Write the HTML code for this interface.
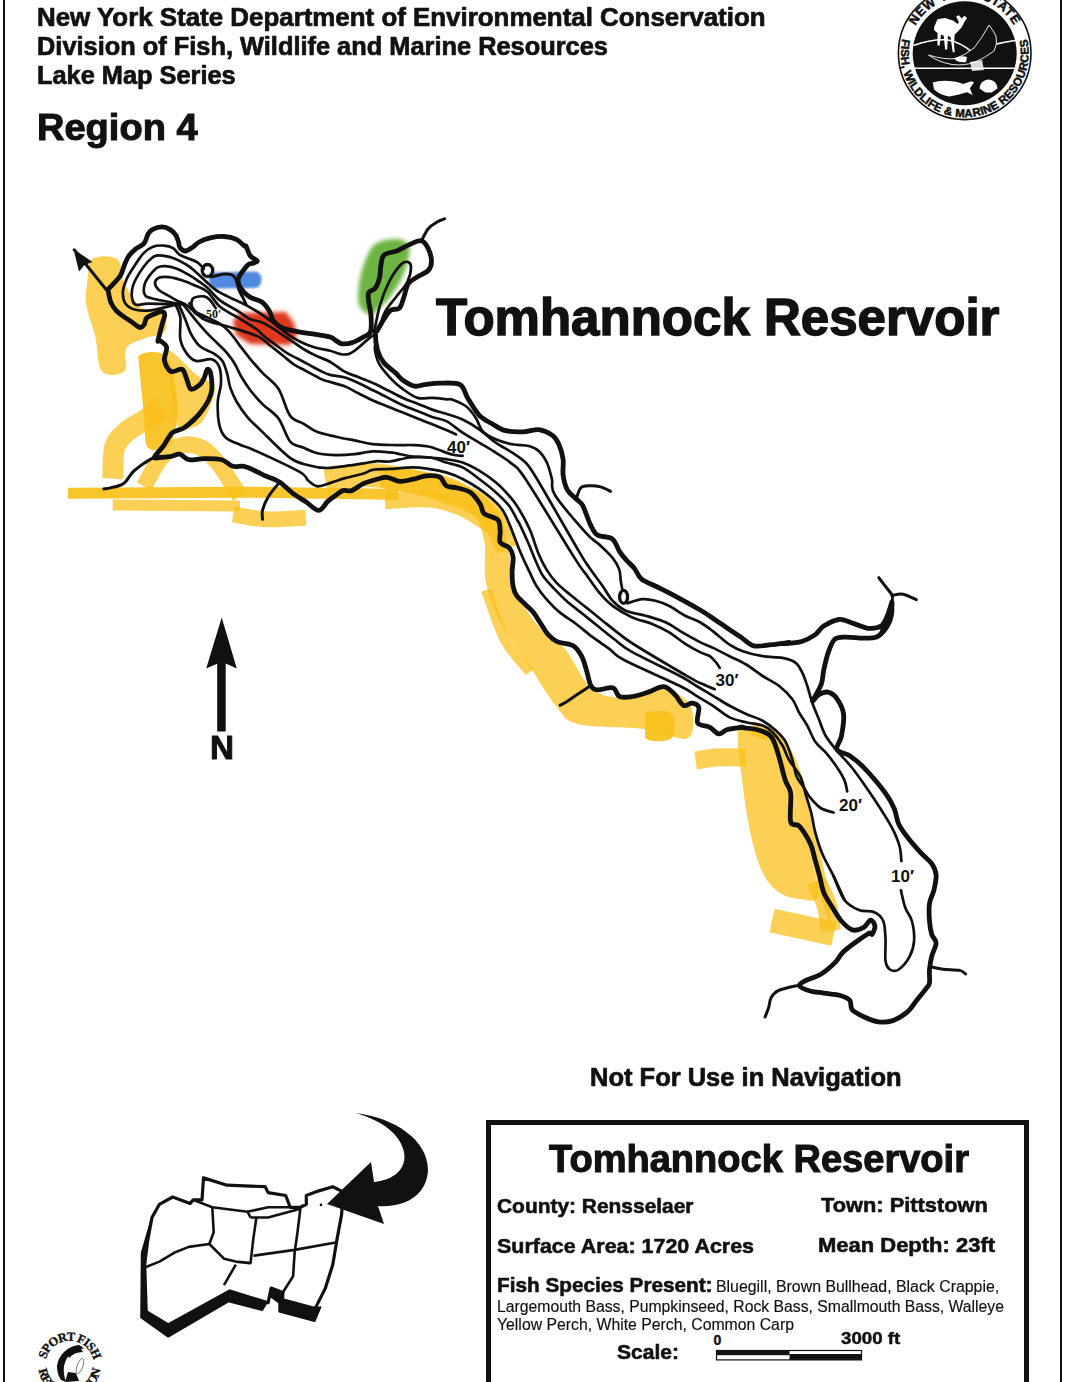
<!DOCTYPE html>
<html><head><meta charset="utf-8">
<style>
html,body{margin:0;padding:0;background:#fff;}
body{width:1089px;height:1382px;position:relative;overflow:hidden;font-family:"Liberation Sans",sans-serif;color:#111;}
.t{position:absolute;white-space:nowrap;font-weight:bold;line-height:1;transform-origin:0 0;-webkit-text-stroke:0.028em #111;}
.r{font-weight:normal;-webkit-text-stroke:0.01em #111;}
svg{position:absolute;left:0;top:0;}
</style></head><body>
<div style="position:absolute;left:3px;top:0;width:2px;height:1382px;background:#111"></div>
<div style="position:absolute;left:1060px;top:0;width:2px;height:1382px;background:#111"></div>

<div class="t" id="h1" style="left:36.90px;top:4.54px;font-size:25.7px;transform:scaleX(1.008);">New York State Department of Environmental Conservation</div>
<div class="t" id="h2" style="left:36.50px;top:33.84px;font-size:25.7px;transform:scaleX(0.988);">Division of Fish, Wildlife and Marine Resources</div>
<div class="t" id="h3" style="left:36.50px;top:62.74px;font-size:25.7px;transform:scaleX(0.987);">Lake Map Series</div>
<div class="t" id="h4" style="left:36.6px;top:108.84px;font-size:37.4px;transform:scaleX(1.017);">Region 4</div>

<div class="t" id="title" style="left:436.0px;top:291.66px;font-size:51.2px;transform:scaleX(0.997);">Tomhannock Reservoir</div>

<div class="t" id="nfu" style="left:590.3px;top:1064.65px;font-size:25.1px;transform:scaleX(1.016);">Not For Use in Navigation</div>

<div style="position:absolute;left:486px;top:1120px;width:533px;height:300px;border:5px solid #111;"></div>
<div class="t" id="bt" style="left:549.2px;top:1140.4px;font-size:38px;transform:scaleX(1.001);">Tomhannock Reservoir</div>
<div class="t" id="c1" style="left:496.9px;top:1195.56px;font-size:20.6px;transform:scaleX(1.016);">County: Rensselaer</div>
<div class="t" id="c2" style="left:820.6px;top:1195.26px;font-size:20.6px;transform:scaleX(1.059);">Town: Pittstown</div>
<div class="t" id="c3" style="left:496.6px;top:1235.56px;font-size:20.6px;transform:scaleX(1.041);">Surface Area: 1720 Acres</div>
<div class="t" id="c4" style="left:818.1px;top:1234.66px;font-size:20.6px;transform:scaleX(1.067);">Mean Depth: 23ft</div>
<div class="t" id="c5" style="left:497.0px;top:1274.76px;font-size:20.6px;transform:scaleX(1.007);">Fish Species Present:</div>
<div class="t r" id="f1" style="left:716.4px;top:1278.66px;font-size:16px;transform:scaleX(0.992);">Bluegill, Brown Bullhead, Black Crappie,</div>
<div class="t r" id="f2" style="left:496.6px;top:1298.76px;font-size:16px;transform:scaleX(0.984);">Largemouth Bass, Pumpkinseed, Rock Bass, Smallmouth Bass, Walleye</div>
<div class="t r" id="f3" style="left:497.0px;top:1317.16px;font-size:16px;transform:scaleX(0.987);">Yellow Perch, White Perch, Common Carp</div>
<div class="t" id="sc" style="left:617.2px;top:1341.66px;font-size:20.6px;transform:scaleX(1.02);">Scale:</div>
<div class="t" id="s0" style="left:713.6px;top:1333.45px;font-size:14px;transform:scaleX(1.0);">0</div>
<div class="t" id="s3" style="left:841.0px;top:1331.4px;font-size:16.8px;transform:scaleX(1.113);">3000 ft</div>

<svg width="1089" height="1382" viewBox="0 0 1089 1382">

<!--EXTRA-->
<defs>
 <filter id="blur2" x="-20%" y="-20%" width="140%" height="140%"><feGaussianBlur stdDeviation="2"/></filter>
 <filter id="blur1" x="-20%" y="-20%" width="140%" height="140%"><feGaussianBlur stdDeviation="1.2"/></filter>
 <path id="logoTop" d="M914.7,53.3 A50,50 0 0 1 1014.7,53.3"/>
 <path id="logoBot" d="M905.7,53.3 A59,59 0 0 0 1023.7,53.3"/>
</defs>
<!-- colored patches -->
<path d="M210,272.5 L256,271.5 Q262,274 261.5,280 Q261,287 255,288 L214,288.5 Q209,286 209,279Z" fill="#5089E0" filter="url(#blur1)"/>
<path d="M233,321 L239,313 L286,312 L294,323 L297,336 L290,345 L250,344 L236,335Z" fill="#E0371C" filter="url(#blur2)"/>
<path d="M372,247 Q380,238 400,239 L410,244 Q410,262 400,282 L388,300 L372,315 Q360,313 358,300 Q358,270 372,247Z" fill="#6DB443" filter="url(#blur2)"/>
<!--/EXTRA-->
<!--MAP-->
<g fill="none" stroke="#F9C01A" stroke-linecap="butt" stroke-linejoin="round">
<path d="M89.3,261.7 C94.5,255.0 110.8,255.2 116.7,258.8 C122.6,262.4 120.3,274.9 124.5,283.2 C128.7,291.5 135.6,303.7 142.1,308.6 C148.6,313.5 159.8,308.6 163.6,312.5 C167.3,316.4 167.5,327.9 164.6,332.1 C161.7,336.3 152.4,335.3 146.0,337.9 C139.6,340.5 130.0,342.1 126.4,347.7 C122.8,353.2 128.6,367.3 124.5,371.2 C120.4,375.1 106.9,377.1 102.0,371.2 C97.1,365.3 98.0,348.1 95.2,336.0 C92.4,323.9 86.4,311.3 85.4,298.9Z" fill="#F9C01A" fill-opacity="0.74" stroke="none"/>
<path d="M138.2,356.5 C142.3,351.3 159.3,350.4 165.5,355.5 C171.7,360.6 173.3,376.7 175.3,386.8 C177.3,396.9 178.3,406.3 177.3,416.1 C176.3,425.9 174.3,440.2 169.4,445.4 C164.5,450.6 152.1,452.3 147.9,447.4 C143.7,442.5 145.1,426.2 144.0,416.1 C142.9,406.0 142.1,396.7 141.1,386.8Z" fill="#F9C01A" fill-opacity="0.92" stroke="none"/>
<path d="M165.5,351.6 C169.1,343.8 188.7,369.2 196.8,375.1 C205.0,381.0 212.5,380.9 214.4,386.8 C216.3,392.7 211.4,403.8 208.5,410.3 C205.6,416.8 202.3,423.9 196.8,425.9 C191.3,427.8 180.5,434.4 175.3,422.0Z" fill="#F9C01A" fill-opacity="0.74" stroke="none"/>
<path d="M112.8,478.7 C113.1,473.5 112.4,455.2 114.7,447.4 C117.0,439.6 120.9,436.7 126.4,431.8 C131.9,426.9 142.0,422.3 147.9,418.1 C153.8,413.9 159.3,408.3 161.6,406.4" stroke-width="21" stroke-opacity="0.74"/>
<path d="M144.0,486.5 C146.9,481.6 155.4,464.1 161.6,457.2 C167.8,450.3 174.7,447.0 181.2,445.4 C187.7,443.8 194.8,444.8 200.7,447.4 C206.6,450.0 211.5,455.6 216.4,461.1 C221.3,466.6 226.1,474.7 230.0,480.6 C233.9,486.5 238.3,493.7 240.0,496.3" stroke-width="16.5" stroke-opacity="0.74"/>
<path d="M67.8,493.3 C96.5,493.1 201.4,492.4 240.0,492.3 C278.6,492.2 272.8,492.5 299.2,492.9 C325.6,493.3 381.8,494.2 398.3,494.5" stroke-width="11" stroke-opacity="0.92"/>
<path d="M112.8,505.0 L240.0,506.0" stroke-width="11" stroke-opacity="0.74"/>
<path d="M233.1,514.4 C238.6,515.2 254.0,518.8 266.1,519.3 C278.2,519.8 299.2,518.0 305.8,517.7" stroke-width="16" stroke-opacity="0.74"/>
<path d="M325.6,481.3 C332.2,480.2 351.0,474.7 365.3,474.7 C379.6,474.7 397.3,478.3 411.6,481.3 C425.9,484.3 439.6,488.8 451.2,492.9 C462.8,497.0 473.3,500.6 481.0,506.1 C488.7,511.6 493.1,518.8 497.5,526.0 C501.9,533.2 505.8,545.2 507.4,549.1" stroke-width="24" stroke-opacity="0.74"/>
<path d="M385.1,501.2 C392.8,500.9 418.2,498.1 431.4,499.5 C444.6,500.9 454.6,505.0 464.5,509.4 C474.4,513.8 486.5,523.2 490.9,526.0" stroke-width="16" stroke-opacity="0.74"/>
<path d="M380.0,486.4 C387.3,490.8 409.3,491.6 424.0,495.3 C438.7,499.0 458.0,501.2 468.0,508.5 C478.0,515.8 481.0,526.6 484.0,539.0 C487.0,551.4 482.8,568.3 486.0,583.0 C489.2,597.7 495.7,613.0 503.0,627.0 C510.3,641.0 521.2,653.8 530.0,667.0 C538.8,680.2 548.0,696.5 556.0,706.0 C564.0,715.5 563.3,720.2 578.0,724.0 C592.7,727.8 625.7,726.7 644.0,729.0 C662.3,731.3 680.3,742.0 688.0,738.0 C695.7,734.0 694.3,713.2 690.0,705.0 C685.7,696.8 672.5,690.2 662.0,689.0 C651.5,687.8 638.7,698.0 627.0,698.0 C615.3,698.0 602.3,697.2 592.0,689.0 C581.7,680.8 573.8,659.3 565.0,649.0 C556.2,638.7 547.0,636.5 539.0,627.0 C531.0,617.5 522.2,605.2 517.0,592.0 C511.8,578.8 511.0,561.2 508.0,548.0 C505.0,534.8 505.7,523.3 499.0,513.0 C492.3,502.7 479.0,492.7 468.0,486.0 C457.0,479.3 447.7,475.8 433.0,473.0 C418.3,470.2 388.8,466.8 380.0,469.0Z" fill="#F9C01A" fill-opacity="0.74" stroke="none"/>
<path d="M486.0,590.0 C489.2,598.3 497.7,626.3 505.0,640.0 C512.3,653.7 525.8,666.7 530.0,672.0" stroke-width="10" stroke-opacity="0.74"/>
<path d="M645.1,713.9 C649.5,709.8 667.2,709.8 671.6,713.9 C676.0,718.0 676.0,734.2 671.6,738.2 C667.2,742.2 649.5,742.2 645.1,738.2Z" fill="#F9C01A" fill-opacity="0.92" stroke="none"/>
<path d="M751.6,728.2 L769.2,734.0" stroke-width="14" stroke-opacity="0.74"/>
<path d="M695.7,760.5 C699.1,760.0 708.0,758.0 716.3,757.5 C724.6,757.0 740.8,757.5 745.7,757.5" stroke-width="18" stroke-opacity="0.74"/>
<path d="M739.0,728.0 C735.3,737.8 740.8,768.3 743.0,787.0 C745.2,805.7 748.5,825.3 752.0,840.0 C755.5,854.7 759.3,866.2 764.0,875.0 C768.7,883.8 774.0,889.0 780.0,893.0 C786.0,897.0 793.7,898.3 800.0,899.0 C806.3,899.7 816.0,903.5 818.0,897.0 C820.0,890.5 815.0,872.8 812.0,860.0 C809.0,847.2 803.7,833.3 800.0,820.0 C796.3,806.7 794.0,792.5 790.0,780.0 C786.0,767.5 780.2,753.7 776.0,745.0 C771.8,736.3 771.2,730.8 765.0,728.0Z" fill="#F9C01A" fill-opacity="0.74" stroke="none"/>
<path d="M765.0,730.0 C768.0,738.8 784.2,765.0 790.0,780.0 C795.8,795.0 796.3,806.7 800.0,820.0 C803.7,833.3 808.3,846.7 812.0,860.0 C815.7,873.3 818.8,889.2 822.0,900.0 C825.2,910.8 830.3,928.3 831.0,925.0 C831.7,921.7 828.7,895.8 826.0,880.0 C823.3,864.2 818.8,846.7 815.0,830.0 C811.2,813.3 807.2,793.7 803.0,780.0 C798.8,766.3 795.2,756.8 790.0,748.0 C784.8,739.2 776.2,730.0 772.0,727.0Z" fill="#F9C01A" fill-opacity="0.74" stroke="none"/>
<path d="M772.1,920.6 L833.9,933.9" stroke-width="24" stroke-opacity="0.74"/>
<path d="M816.2,881.0 C817.9,884.9 824.0,896.2 826.5,904.5 C829.0,912.8 830.2,926.5 830.9,930.9" stroke-width="20" stroke-opacity="0.74"/>
</g>
<g fill="none" stroke="#111" stroke-linecap="round" stroke-linejoin="round">
<path d="M175.6,304.7 C171.7,305.6 159.1,309.2 152.4,310.1 C145.8,311.0 140.2,310.9 135.7,309.8 C131.2,308.7 127.5,306.4 125.4,303.4 C123.3,300.4 122.7,296.0 122.9,291.9 C123.1,287.8 124.8,283.3 126.7,279.0 C128.6,274.7 131.6,270.4 134.4,266.1 C137.2,261.8 140.4,256.5 143.4,253.3 C146.4,250.1 149.0,248.2 152.4,246.9 C155.8,245.6 160.6,245.4 164.0,245.6 C167.4,245.8 170.4,246.6 173.0,248.1 C175.6,249.6 176.8,252.9 179.4,254.6 C182.0,256.3 185.4,257.1 188.4,258.4 C191.4,259.7 194.8,260.6 197.4,262.3 C200.0,264.0 202.7,267.6 203.8,268.7" stroke-width="2.7"/>
<path d="M178.7,304.7 C173.7,304.5 155.8,303.7 148.6,303.7 C141.4,303.7 138.5,305.8 135.7,304.7 C132.9,303.6 132.3,300.2 131.9,297.0 C131.5,293.8 131.8,289.5 133.1,285.4 C134.4,281.3 137.2,276.5 139.6,272.6 C142.0,268.8 144.7,265.1 147.3,262.3 C149.9,259.5 152.2,257.0 155.0,255.9 C157.8,254.8 160.8,255.5 164.0,255.9 C167.2,256.3 170.9,257.1 174.3,258.4 C177.7,259.7 181.4,261.7 184.6,263.6 C187.8,265.5 188.8,265.9 193.6,270.0 C198.3,274.1 208.5,284.0 213.1,287.9 C217.7,291.8 218.0,291.4 221.1,293.1 C224.2,294.8 227.8,296.5 231.4,298.2 C235.0,299.9 239.3,301.8 242.4,303.3 C245.5,304.8 246.9,305.5 250.0,307.3 C253.1,309.1 257.3,311.6 261.0,314.0 C264.7,316.4 268.7,319.5 272.0,322.0 C275.3,324.5 277.7,326.6 280.9,329.0 C284.1,331.4 287.1,334.2 291.1,336.7 C295.1,339.2 300.9,342.2 305.1,344.1 C309.3,346.0 312.0,346.7 316.1,347.8 C320.2,348.9 325.3,349.6 330.0,350.7 C334.7,351.8 340.0,354.5 344.1,354.5 C348.2,354.5 349.3,354.2 354.4,350.9 C359.5,347.6 371.5,334.9 374.9,334.7 C378.3,334.4 374.2,344.5 374.9,349.4 C375.6,354.3 376.6,359.2 379.3,364.1 C382.0,369.0 387.2,374.6 391.1,378.8 C395.0,383.0 398.5,385.9 402.9,389.1 C407.3,392.3 412.6,396.4 417.5,397.9 C422.4,399.4 427.3,397.7 432.2,397.9 C437.1,398.1 443.5,399.0 446.9,399.3 C450.3,399.6 449.5,398.5 452.7,399.7 C455.9,400.9 462.1,403.3 466.0,406.3 C469.9,409.3 473.1,413.8 475.9,417.9 C478.6,422.0 479.2,427.5 482.5,431.1 C485.8,434.7 490.8,437.1 495.7,439.3 C500.6,441.5 506.7,443.2 512.2,444.3 C517.7,445.4 524.4,444.9 528.8,446.0 C533.2,447.1 535.7,448.1 538.7,450.9 C541.7,453.6 544.7,457.8 546.9,462.5 C549.1,467.2 550.5,473.5 551.9,479.0 C553.3,484.5 549.5,486.5 555.2,495.5 C560.9,504.5 578.8,524.9 586.1,533.1 C593.5,541.3 594.9,540.5 599.3,544.6 C603.7,548.7 609.3,553.8 612.6,557.9 C615.9,562.0 617.8,565.5 619.2,569.4 C620.6,573.2 620.2,577.5 620.8,581.0 C621.3,584.5 622.2,588.9 622.5,590.5" stroke-width="2.7"/>
<path d="M627.4,603.3 C629.9,602.6 637.6,599.6 642.3,599.2 C647.0,598.8 651.1,599.7 655.5,600.8 C659.9,601.9 663.8,603.3 668.8,605.8 C673.8,608.3 680.1,613.0 685.3,615.7 C690.5,618.5 695.4,619.7 700.0,622.3 C704.6,624.9 708.2,627.7 713.1,631.4 C718.0,635.1 724.7,641.3 729.6,644.6 C734.5,647.9 737.3,649.3 742.8,651.2 C748.3,653.1 756.0,655.1 762.6,656.2 C769.2,657.3 777.0,656.8 782.5,657.9 C788.0,659.0 792.4,660.3 795.7,662.8 C799.0,665.3 800.4,668.8 802.3,672.7 C804.2,676.6 805.6,681.0 807.3,686.0 C808.9,691.0 810.3,697.0 812.2,702.5 C814.1,708.0 816.6,713.5 818.8,719.0 C821.0,724.5 822.5,730.2 825.5,735.5 C828.5,740.8 832.7,745.7 837.1,751.0 C841.5,756.3 846.9,761.4 851.8,767.5 C856.7,773.6 861.6,780.8 866.5,787.8 C871.4,794.8 876.9,803.1 881.2,809.8 C885.5,816.5 889.1,822.1 892.2,828.2 C895.3,834.3 898.1,841.0 899.6,846.5 C901.1,852.0 901.1,858.8 901.4,861.2" stroke-width="2.7"/>
<path d="M183.4,304.7 C178.2,303.7 158.9,300.2 152.4,298.5 C145.9,296.8 146.0,296.8 144.7,294.4 C143.4,292.0 143.8,287.3 144.7,284.1 C145.6,280.9 147.8,277.9 149.9,275.1 C152.1,272.3 155.0,268.9 157.6,267.4 C160.2,265.9 162.1,265.9 165.3,266.1 C168.5,266.3 173.3,267.4 176.9,268.7 C180.5,270.0 183.7,272.0 187.1,273.9 C190.5,275.8 194.0,277.9 197.4,280.3 C200.8,282.7 203.9,284.6 207.7,288.0 C211.5,291.4 214.9,296.5 220.0,300.4 C225.1,304.3 233.4,308.3 238.4,311.4 C243.4,314.5 246.2,317.3 250.0,319.1 C253.8,320.9 257.3,320.5 261.0,322.0 C264.7,323.5 268.3,325.7 272.0,327.9 C275.7,330.1 279.4,332.9 283.1,335.3 C286.8,337.8 290.4,340.2 294.1,342.6 C297.8,345.1 301.4,347.8 305.1,350.0 C308.8,352.2 312.0,353.9 316.1,355.8 C320.2,357.8 325.3,359.1 330.0,361.7 C334.7,364.3 339.3,368.8 344.1,371.4 C348.9,374.0 353.9,375.3 358.8,377.3 C363.7,379.3 368.6,381.0 373.5,383.2 C378.4,385.4 383.3,388.1 388.2,390.5 C393.1,392.9 398.0,395.7 402.9,397.9 C407.8,400.1 412.6,401.8 417.5,403.7 C422.4,405.6 427.3,407.9 432.2,409.6 C437.1,411.3 441.8,412.4 446.9,414.0 C452.0,415.6 457.2,416.9 462.6,419.5 C468.0,422.1 473.7,425.5 479.2,429.4 C484.7,433.2 490.2,438.7 495.7,442.6 C501.2,446.5 507.2,449.3 512.2,452.6 C517.2,455.9 521.4,458.1 525.5,462.5 C529.6,466.9 528.3,464.5 537.0,479.0 C545.7,493.5 569.2,534.8 577.9,549.6 C586.6,564.4 585.3,561.7 589.4,567.8 C593.5,573.9 598.7,580.5 602.6,586.0 C606.5,591.5 608.7,596.7 612.6,600.8 C616.5,604.9 620.3,608.2 625.8,610.7 C631.3,613.2 639.0,613.8 645.6,615.7 C652.2,617.6 659.4,619.5 665.5,622.3 C671.6,625.0 676.2,628.9 682.0,632.2 C687.8,635.5 694.8,639.5 700.0,642.1 C705.2,644.7 708.2,645.5 713.1,647.9 C718.0,650.2 724.1,653.4 729.6,656.2 C735.1,659.0 740.6,661.2 746.1,664.5 C751.6,667.8 757.1,672.4 762.6,676.0 C768.1,679.6 774.2,682.1 779.2,686.0 C784.2,689.9 789.1,694.8 792.4,699.2 C795.7,703.6 796.5,708.0 799.0,712.4 C801.5,716.8 804.5,720.6 807.3,725.6 C810.0,730.6 812.4,737.6 815.5,742.1 C818.6,746.6 822.5,748.7 826.1,752.9 C829.7,757.1 834.0,762.9 837.1,767.5 C840.2,772.1 842.8,776.4 844.5,780.4 C846.2,784.4 846.8,789.6 847.2,791.4" stroke-width="2.7"/>
<path d="M181.0,302.9 C179.4,302.0 175.4,299.8 171.7,297.6 C168.0,295.4 161.7,292.3 158.9,289.9 C156.1,287.4 155.0,284.9 155.0,282.9 C155.0,280.9 156.6,278.7 158.9,277.7 C161.2,276.7 165.2,276.7 169.1,277.1 C172.9,277.5 177.7,278.9 182.0,280.3 C186.3,281.7 190.5,283.5 194.8,285.4 C199.1,287.3 203.5,288.3 207.7,291.9 C211.9,295.5 214.9,302.5 220.0,306.8 C225.1,311.1 233.4,314.9 238.4,317.9 C243.4,320.9 246.8,323.0 250.0,325.0 C253.2,327.0 254.9,327.9 257.3,329.8 C259.8,331.8 261.6,334.2 264.7,336.7 C267.8,339.2 272.0,342.1 275.7,344.8 C279.4,347.5 283.0,350.6 286.7,352.9 C290.4,355.2 294.1,356.9 297.8,358.8 C301.5,360.8 305.1,362.7 308.8,364.6 C312.5,366.6 316.3,368.8 319.8,370.5 C323.3,372.2 325.9,373.8 330.0,374.9 C334.1,376.0 339.3,375.9 344.1,377.3 C348.9,378.7 353.9,381.0 358.8,383.2 C363.7,385.4 368.6,388.1 373.5,390.5 C378.4,392.9 383.3,395.4 388.2,397.9 C393.1,400.3 398.0,403.0 402.9,405.2 C407.8,407.4 412.6,409.1 417.5,411.1 C422.4,413.1 427.3,415.3 432.2,417.0 C437.1,418.7 441.8,418.8 446.9,421.4 C452.0,424.0 457.2,429.2 462.6,432.7 C468.0,436.2 473.7,439.3 479.2,442.6 C484.7,445.9 490.2,449.0 495.7,452.6 C501.2,456.2 507.2,459.7 512.2,464.1 C517.2,468.5 515.1,463.4 525.5,479.0 C535.9,494.6 564.4,542.0 574.5,557.9 C584.6,573.8 582.0,568.6 586.1,574.4 C590.2,580.2 594.9,587.4 599.3,592.6 C603.7,597.8 607.1,601.7 612.6,605.8 C618.1,609.9 625.8,614.4 632.4,617.4 C639.0,620.4 646.1,621.5 652.2,624.0 C658.3,626.5 663.3,628.9 668.8,632.2 C674.3,635.5 680.1,640.5 685.3,643.8 C690.5,647.1 695.9,650.0 700.0,652.1 C704.1,654.2 707.1,654.4 709.8,656.2 C712.5,658.0 714.8,660.9 716.4,662.8 C718.0,664.7 719.2,667.0 719.7,667.8" stroke-width="2.7"/>
<path d="M189.4,303.3 C191.6,305.8 196.4,314.7 202.5,318.5 C208.6,322.3 218.3,323.6 226.1,326.0 C233.8,328.4 243.2,331.0 249.0,333.0 C254.8,335.0 257.2,335.9 261.0,338.2 C264.8,340.5 268.3,344.1 272.0,347.0 C275.7,349.9 279.4,352.9 283.1,355.8 C286.8,358.7 290.4,362.2 294.1,364.6 C297.8,367.1 301.4,368.5 305.1,370.5 C308.8,372.5 313.0,374.8 316.1,376.4 C319.2,378.0 318.8,378.4 323.5,380.0 C328.2,381.6 338.2,383.9 344.1,386.1 C350.0,388.4 353.9,391.1 358.8,393.5 C363.7,395.9 368.6,398.6 373.5,400.8 C378.4,403.0 383.3,404.7 388.2,406.7 C393.1,408.7 398.0,410.7 402.9,412.6 C407.8,414.6 412.6,416.4 417.5,418.4 C422.4,420.3 427.3,422.3 432.2,424.3 C437.1,426.3 442.9,428.5 446.9,430.2 C450.9,431.9 454.5,433.7 456.0,434.4" stroke-width="2.7"/>
<path d="M215.8,308.2 C214.8,306.8 211.9,302.0 210.0,300.0 C208.1,298.0 206.8,296.8 204.1,296.4 C201.4,296.0 195.9,296.5 193.8,297.9 C191.7,299.3 191.3,302.5 191.5,305.0 C191.7,307.5 192.9,310.9 195.0,313.0 C197.1,315.1 202.6,316.8 204.1,317.5" stroke-width="2.7"/>
<path d="M180.0,301.9 C181.2,302.5 184.9,303.9 187.3,305.5 C189.8,307.1 189.4,308.4 194.7,311.4 C200.0,314.4 213.4,319.8 219.3,323.4 C225.2,327.0 226.8,329.1 230.2,332.8 C233.6,336.5 236.2,340.9 239.6,345.3 C243.0,349.7 246.6,354.6 250.5,359.3 C254.4,364.0 258.3,368.4 263.0,373.4 C267.7,378.3 274.1,382.0 278.6,389.0 C283.1,396.0 285.8,409.8 290.0,415.6 C294.2,421.4 299.2,421.1 303.8,423.9 C308.4,426.6 312.1,430.0 317.5,432.1 C322.9,434.2 329.8,435.3 335.9,436.7 C342.0,438.1 348.2,439.2 354.3,440.4 C360.4,441.6 365.6,443.3 372.6,444.1 C379.6,444.9 389.8,444.9 396.5,445.1 C403.2,445.3 407.6,444.8 413.1,445.1 C418.6,445.4 424.1,445.6 429.6,446.8 C435.1,448.1 442.0,451.2 446.1,452.6 C450.2,454.0 451.6,454.4 454.4,455.0 C457.1,455.6 461.2,455.8 462.6,455.9" stroke-width="2.7"/>
<path d="M183.4,304.7 C185.5,307.3 192.0,315.6 195.9,320.3 C199.8,325.0 203.2,328.9 206.8,332.8 C210.5,336.7 214.4,340.3 217.8,343.7 C221.2,347.1 224.2,349.7 227.1,353.1 C229.9,356.5 232.6,360.1 234.9,364.0 C237.2,367.9 238.6,372.1 241.2,376.5 C243.8,380.9 246.9,385.8 250.5,390.5 C254.1,395.2 258.3,399.9 263.0,404.6 C267.7,409.3 274.1,412.5 278.6,418.6 C283.1,424.7 285.8,436.4 290.0,441.3 C294.2,446.2 299.2,445.8 303.8,447.8 C308.4,449.8 312.1,452.1 317.5,453.3 C322.9,454.5 329.8,455.0 335.9,455.1 C342.0,455.2 348.2,454.8 354.3,454.2 C360.4,453.6 366.7,451.7 372.6,451.4 C378.6,451.1 386.0,452.0 390.0,452.3 C394.0,452.6 392.6,452.7 396.5,453.4 C400.4,454.1 407.6,456.0 413.1,456.7 C418.6,457.4 424.1,457.1 429.6,457.5 C435.1,457.9 440.6,458.4 446.1,459.2 C451.6,460.0 457.1,460.6 462.6,462.5 C468.1,464.4 473.7,467.4 479.2,470.7 C484.7,474.0 490.8,478.2 495.7,482.3 C500.6,486.4 505.0,491.1 508.9,495.5 C512.8,499.9 515.3,503.1 518.8,508.8 C522.3,514.5 526.7,522.4 529.9,529.8 C533.1,537.1 535.5,546.3 538.2,552.9 C541.0,559.5 543.4,564.4 546.4,569.4 C549.4,574.4 552.5,578.5 556.4,582.6 C560.3,586.7 564.6,590.1 569.6,594.2 C574.6,598.3 580.6,603.0 586.1,607.4 C591.6,611.8 597.1,616.3 602.6,620.7 C608.1,625.1 613.7,629.8 619.2,633.9 C624.7,638.0 623.9,638.2 635.7,645.5 C647.5,652.8 678.7,671.2 689.9,677.7 C701.1,684.2 699.0,682.4 703.1,684.3 C707.2,686.2 712.8,688.5 714.7,689.3" stroke-width="2.7"/>
<path d="M178.7,304.7 C179.8,307.0 182.9,313.8 185.0,318.7 C187.1,323.6 188.6,329.6 191.2,334.3 C193.8,339.0 196.9,343.7 200.6,346.8 C204.2,349.9 209.5,350.8 213.1,353.1 C216.7,355.5 220.1,357.5 222.4,360.9 C224.7,364.3 225.8,369.0 227.1,373.4 C228.4,377.8 228.6,382.7 230.2,387.4 C231.8,392.1 233.6,396.6 236.5,401.5 C239.4,406.4 243.2,412.2 247.4,417.1 C251.6,422.0 254.4,424.3 261.5,431.1 C268.6,437.9 282.2,452.2 290.0,457.9 C297.8,463.6 302.3,463.5 308.4,465.2 C314.5,466.9 320.6,467.9 326.7,468.0 C332.8,468.1 339.0,466.9 345.1,466.1 C351.2,465.3 358.1,464.2 363.5,463.4 C368.9,462.6 372.8,461.4 377.2,461.1 C381.6,460.8 384.6,462.1 390.0,461.5 C395.4,460.9 403.2,458.2 409.8,457.5 C416.4,456.8 423.6,456.7 429.6,457.5 C435.7,458.3 440.6,460.9 446.1,462.5 C451.6,464.1 457.1,464.6 462.6,467.4 C468.1,470.1 473.7,474.9 479.2,479.0 C484.7,483.1 490.8,487.8 495.7,492.2 C500.6,496.6 505.3,500.9 508.9,505.5 C512.5,510.1 515.4,516.8 517.2,520.0 C519.1,523.2 518.1,521.0 520.0,524.8 C521.9,528.6 525.5,536.7 528.3,543.0 C531.0,549.3 534.0,557.3 536.5,562.8 C539.0,568.3 540.3,571.9 543.1,576.0 C545.9,580.1 549.2,583.5 553.1,587.6 C557.0,591.7 561.3,596.4 566.3,600.8 C571.2,605.2 577.3,609.6 582.8,614.0 C588.3,618.4 593.8,622.9 599.3,627.3 C604.8,631.7 610.4,636.4 615.9,640.5 C621.4,644.6 621.7,646.2 632.4,652.1 C643.1,658.0 669.3,670.4 680.0,676.0 C690.7,681.6 691.0,682.7 696.5,686.0 C702.0,689.3 707.6,692.6 713.1,695.9 C718.6,699.2 724.1,702.8 729.6,705.8 C735.1,708.8 740.6,711.5 746.1,714.0 C751.6,716.5 757.6,717.9 762.6,720.7 C767.6,723.5 772.0,727.0 775.9,730.6 C779.8,734.2 783.0,737.2 785.8,742.1 C788.5,747.0 790.6,754.2 792.4,760.0 C794.2,765.8 794.8,772.1 796.7,776.7 C798.7,781.3 802.0,784.4 804.1,787.8 C806.2,791.2 806.9,793.5 809.6,796.9 C812.4,800.3 816.6,805.4 820.6,808.0 C824.6,810.6 831.4,811.8 833.5,812.5" stroke-width="2.7"/>
<path d="M175.6,304.7 C176.4,306.8 179.5,311.5 180.3,317.2 C181.1,322.9 179.3,333.0 180.3,339.0 C181.3,345.0 183.9,349.5 186.5,353.1 C189.1,356.8 191.7,359.9 195.9,360.9 C200.1,361.9 207.6,358.3 211.5,359.3 C215.4,360.3 217.7,362.9 219.3,367.1 C220.9,371.3 221.2,378.6 220.9,384.3 C220.7,390.0 218.1,394.7 217.8,401.5 C217.5,408.3 218.0,418.9 219.3,424.9 C220.6,430.9 221.9,434.0 225.6,437.4 C229.2,440.8 236.5,443.1 241.2,445.2 C245.9,447.3 244.0,445.5 253.7,449.9 C263.4,454.3 290.1,466.5 299.2,471.6 C308.3,476.8 305.3,478.4 308.4,480.8 C311.4,483.2 313.7,486.0 317.5,486.3 C321.3,486.6 326.7,484.0 331.3,482.6 C335.9,481.2 339.7,479.6 345.1,478.1 C350.5,476.6 358.9,474.9 363.5,473.5 C368.1,472.1 368.2,470.6 372.6,469.8 C377.0,469.0 383.2,469.3 390.0,468.9 C396.8,468.5 406.5,467.4 413.1,467.4 C419.7,467.4 424.1,468.3 429.6,469.1 C435.1,469.9 440.6,470.8 446.1,472.4 C451.6,474.0 457.1,476.2 462.6,479.0 C468.1,481.8 473.7,485.0 479.2,488.9 C484.7,492.8 491.3,497.7 495.7,502.1 C500.1,506.5 501.6,507.2 505.6,515.4 C509.7,523.6 516.0,541.7 520.0,551.2 C524.0,560.8 527.1,566.9 529.9,572.7 C532.6,578.5 533.8,581.6 536.5,586.0 C539.2,590.4 542.5,594.8 546.4,599.2 C550.3,603.6 554.7,608.3 559.7,612.4 C564.7,616.5 570.7,619.9 576.2,624.0 C581.7,628.1 587.2,633.1 592.7,637.2 C598.2,641.3 604.1,645.0 609.3,648.8 C614.5,652.6 612.3,653.8 624.1,660.0 C635.9,666.2 667.9,680.0 680.0,686.0 C692.1,692.0 691.0,692.6 696.5,695.9 C702.0,699.2 707.6,702.2 713.1,705.8 C718.6,709.4 724.1,714.6 729.6,717.4 C735.1,720.1 740.6,720.9 746.1,722.3 C751.6,723.7 758.2,724.0 762.6,725.6 C767.0,727.2 769.3,728.9 772.6,732.2 C775.9,735.5 779.8,740.9 782.5,745.5 C785.2,750.1 786.1,754.8 789.1,760.0 C792.1,765.2 797.6,770.9 800.4,776.7 C803.2,782.6 804.1,789.0 805.9,795.1 C807.7,801.2 809.9,807.4 811.4,813.5 C812.9,819.6 813.3,825.1 815.1,831.8 C816.9,838.5 819.3,846.5 822.4,853.9 C825.5,861.2 829.8,868.2 833.5,875.9 C837.2,883.6 842.7,896.0 844.5,900.0" stroke-width="2.7"/>
<path d="M833.5,875.9 C835.3,879.9 840.2,894.3 844.5,900.0 C848.8,905.7 854.0,908.0 859.0,910.0 C864.0,912.0 870.4,910.4 874.4,912.2 C878.4,914.0 881.4,916.6 883.3,921.0 C885.1,925.4 885.1,932.1 885.5,938.7 C885.9,945.3 884.8,955.6 885.5,960.7 C886.2,965.8 887.7,968.0 889.9,969.5 C892.1,971.0 895.4,971.7 898.7,969.5 C902.0,967.3 907.1,961.1 909.7,956.3 C912.3,951.5 913.7,946.8 914.1,940.9 C914.5,935.0 913.4,926.5 911.9,921.0 C910.4,915.5 907.1,912.9 905.3,907.8 C903.5,902.7 901.6,893.1 900.9,890.2" stroke-width="2.7"/>
<path d="M374.3,331.6 C375.2,327.3 377.4,314.2 379.8,305.9 C382.2,297.6 385.6,288.7 389.0,282.0 C392.4,275.3 396.9,268.9 400.0,265.5 C403.1,262.1 405.5,261.5 407.3,261.8 C409.1,262.1 411.0,263.9 411.0,267.3 C411.0,270.7 409.8,277.1 407.3,282.0 C404.9,286.9 400.0,291.8 396.3,296.7 C392.6,301.6 388.4,305.6 385.3,311.4 C382.2,317.2 379.1,328.2 377.9,331.6" stroke-width="2.7"/>
<ellipse cx="207.5" cy="270.5" rx="5.3" ry="6" stroke-width="3.3"/>
<ellipse cx="623.6" cy="596.9" rx="4" ry="6.5" stroke-width="3.3"/>
<path d="M74.2,249.8 L106.1,289.5" stroke-width="3"/>
<path d="M154.6,457.0 C152.8,458.1 147.3,461.0 143.6,463.6 C139.9,466.2 135.9,469.1 132.6,472.4 C129.3,475.7 127.4,480.8 123.7,483.4 C120.0,486.0 113.8,487.0 110.5,487.9 C107.2,488.8 105.0,488.8 103.9,489.0" stroke-width="3"/>
<path d="M279.0,482.8 C277.2,485.2 270.8,492.6 268.0,497.2 C265.2,501.8 263.4,506.7 262.5,510.4 C261.6,514.1 262.5,517.7 262.5,519.2" stroke-width="3"/>
<path d="M590.9,685.5 C588.7,687.0 582.0,691.4 577.6,694.3 C573.2,697.2 567.3,701.3 564.4,703.1 C561.5,704.9 560.7,704.9 560.0,705.3" stroke-width="3"/>
<path d="M892.1,601.9 C892.1,600.8 893.2,597.9 892.1,595.3 C891.0,592.7 887.7,589.3 885.5,586.4 C883.3,583.5 879.9,579.1 878.8,577.6" stroke-width="3"/>
<path d="M892.1,595.3 C893.9,595.1 899.1,593.5 903.1,594.2 C907.1,594.9 914.1,598.8 916.3,599.7" stroke-width="3"/>
<path d="M421.5,240.8 C422.6,238.8 425.6,231.8 428.2,228.7 C430.8,225.6 434.2,223.7 437.0,222.0 C439.8,220.3 443.4,219.2 444.7,218.7" stroke-width="3"/>
<path d="M576.3,499.0 C577.0,497.2 578.5,490.2 580.7,488.0 C582.9,485.8 586.2,486.0 589.5,485.8 C592.8,485.6 597.1,486.0 600.6,486.9 C604.1,487.8 608.9,490.6 610.5,491.3" stroke-width="3"/>
<path d="M799.7,986.0 C798.9,986.0 798.5,985.2 794.9,986.0 C791.3,986.8 782.2,988.7 778.2,990.7 C774.2,992.7 772.6,995.1 771.0,997.9 C769.4,1000.7 769.7,1004.2 768.7,1007.4 C767.7,1010.6 765.7,1015.4 765.1,1017.0" stroke-width="3"/>
<path d="M931.0,966.9 C933.0,967.3 938.2,968.6 943.0,969.2 C947.8,969.8 955.9,969.6 959.7,970.4 C963.5,971.2 964.6,973.4 965.6,974.0" stroke-width="3"/>
<path d="M211.0,276.8 C212.2,276.5 216.0,275.7 218.2,275.2 C220.4,274.7 221.9,274.1 224.1,274.0 C226.3,273.9 229.4,273.8 231.4,274.7 C233.4,275.6 234.6,276.7 235.8,279.1 C237.0,281.6 237.6,286.2 238.8,289.4 C240.0,292.6 242.0,295.8 243.2,298.2 C244.4,300.6 245.5,303.1 246.0,304.1" stroke-width="3"/>
<path d="M108.3,288.9 C109.2,288.0 111.7,285.7 113.8,283.4 C115.9,281.1 118.9,278.3 120.7,275.1 C122.5,271.9 123.4,267.3 124.8,264.1 C126.2,260.9 127.1,258.3 128.9,255.8 C130.7,253.3 133.3,251.0 135.8,248.9 C138.3,246.8 142.0,245.9 144.1,243.4 C146.2,240.9 146.8,236.1 148.2,233.8 C149.6,231.5 150.0,230.8 152.3,229.6 C154.6,228.4 159.0,226.9 162.0,226.9 C165.0,226.9 167.9,228.2 170.2,229.6 C172.5,231.0 174.4,233.1 175.8,235.2 C177.2,237.3 177.8,239.9 178.5,242.0 C179.2,244.1 178.8,246.0 179.9,247.5 C181.1,249.0 183.3,251.0 185.4,251.0 C187.5,251.0 190.0,249.0 192.3,247.5 C194.6,246.0 196.2,243.6 199.2,242.0 C202.2,240.4 206.1,238.8 210.2,237.9 C214.3,237.0 219.6,236.3 224.0,236.5 C228.4,236.7 233.0,237.7 236.4,239.3 C239.8,240.9 243.0,245.0 244.6,246.2 C246.2,247.3 245.2,244.6 246.1,246.2 C247.0,247.8 248.4,253.4 250.2,255.8 C252.0,258.2 256.4,259.5 257.1,260.6 C257.8,261.8 255.8,262.1 254.4,262.7 C253.0,263.3 250.4,263.3 248.9,264.1 C247.4,264.9 247.4,264.9 245.7,267.3 C243.9,269.7 239.3,275.0 238.4,278.4 C237.5,281.8 238.4,284.4 240.2,287.5 C242.0,290.6 245.7,294.2 249.4,296.7 C253.1,299.1 258.8,299.8 262.2,302.2 C265.6,304.6 267.8,308.3 269.6,311.4 C271.5,314.5 271.2,317.8 273.3,320.6 C275.4,323.4 278.4,326.2 282.4,328.0 C286.4,329.8 291.6,330.5 297.1,331.6 C302.6,332.7 310.0,333.5 315.5,334.4 C321.0,335.3 325.9,335.6 330.2,337.1 C334.5,338.6 337.5,342.7 341.2,343.6 C344.9,344.5 348.5,343.7 352.2,342.6 C355.9,341.5 360.2,338.9 363.3,337.1 C366.4,335.3 369.3,335.4 370.6,331.6 C371.9,327.9 371.2,319.6 370.9,314.6 C370.6,309.6 369.1,305.1 368.7,301.4 C368.3,297.7 367.6,294.8 368.7,292.6 C369.8,290.4 373.5,290.8 375.3,288.2 C377.1,285.6 378.8,280.8 379.7,277.1 C380.6,273.4 380.1,269.8 380.8,266.1 C381.5,262.4 381.4,257.7 384.1,255.1 C386.9,252.5 392.9,252.5 397.3,250.7 C401.7,248.9 406.5,245.8 410.5,244.1 C414.5,242.4 418.6,240.1 421.5,240.8 C424.4,241.5 426.5,245.0 428.2,248.5 C429.9,252.0 431.5,258.0 431.5,261.7 C431.5,265.4 430.6,267.9 428.2,270.5 C425.8,273.1 420.4,274.9 417.1,277.1 C413.8,279.3 410.5,280.4 408.3,283.7 C406.1,287.0 405.4,292.9 403.9,297.0 C402.4,301.1 401.7,305.8 399.5,308.0 C397.3,310.2 393.3,308.4 390.7,310.2 C388.1,312.0 386.3,315.7 384.1,319.0 C381.9,322.3 379.0,327.8 377.5,330.0 C376.0,332.2 375.3,328.9 375.3,332.2 C375.3,335.5 376.1,344.8 377.5,349.9 C378.9,355.0 380.7,358.8 383.7,362.6 C386.7,366.4 392.3,370.0 395.5,372.9 C398.7,375.8 399.7,378.0 402.9,380.2 C406.1,382.4 410.9,385.4 414.6,386.1 C418.3,386.8 420.7,385.1 424.9,384.6 C429.1,384.1 433.8,383.2 439.6,383.2 C445.5,383.2 455.3,382.1 460.0,384.6 C464.7,387.1 464.6,393.2 467.8,398.3 C471.0,403.4 475.2,411.0 479.3,415.3 C483.4,419.6 488.2,421.5 492.6,424.1 C497.0,426.7 500.7,429.4 505.8,430.7 C510.9,432.0 517.9,432.0 523.4,431.8 C528.9,431.6 534.0,429.1 538.8,429.6 C543.6,430.2 548.8,432.7 552.1,435.1 C555.4,437.5 556.9,439.9 558.7,443.9 C560.5,447.9 562.4,454.1 563.1,459.3 C563.8,464.5 562.4,469.7 563.1,474.8 C563.8,479.9 565.3,486.2 567.5,490.2 C569.7,494.2 573.8,496.4 576.3,499.0 C578.8,501.6 580.5,501.5 582.8,505.7 C585.1,509.9 587.8,519.2 590.2,524.1 C592.7,529.0 593.8,532.7 597.5,535.1 C601.2,537.5 608.5,536.0 612.2,538.8 C615.9,541.5 617.2,547.9 619.6,551.6 C622.0,555.3 624.5,558.0 626.9,560.8 C629.3,563.6 631.8,565.1 634.3,568.2 C636.8,571.3 637.9,576.2 641.6,579.2 C645.3,582.2 651.4,584.0 656.3,586.5 C661.2,589.0 663.5,589.9 671.0,593.9 C678.5,597.9 693.8,606.3 701.0,610.5 C708.2,614.7 709.9,616.3 714.3,619.3 C718.7,622.2 723.1,625.2 727.5,628.2 C731.9,631.2 736.3,634.1 740.7,637.0 C745.1,639.9 748.8,644.5 753.9,645.8 C759.0,647.1 765.7,645.2 771.6,644.7 C777.5,644.2 787.1,642.7 789.2,642.5 C791.3,642.3 782.0,643.9 784.1,643.7 C786.2,643.5 796.6,643.0 801.7,641.5 C806.8,640.0 811.2,637.5 814.9,634.9 C818.6,632.3 819.7,628.7 823.7,626.1 C827.8,623.5 834.1,619.9 839.2,619.5 C844.4,619.1 849.8,622.4 854.6,623.9 C859.4,625.4 863.4,627.9 867.8,628.3 C872.2,628.7 877.7,628.3 881.0,626.1 C884.3,623.9 885.9,619.1 887.7,615.1 C889.6,611.1 891.7,601.5 892.1,601.9 C892.5,602.3 891.4,612.5 889.9,617.3 C888.4,622.1 885.5,627.2 883.3,630.5 C881.1,633.8 879.9,635.8 876.6,637.1 C873.3,638.4 868.5,638.2 863.4,638.2 C858.3,638.2 850.6,636.9 845.8,637.1 C841.0,637.3 837.7,636.7 834.8,639.3 C831.9,641.9 830.1,647.5 828.2,652.6 C826.4,657.8 824.8,665.1 823.7,670.2 C822.6,675.3 823.0,679.0 821.5,683.4 C820.0,687.8 816.4,693.7 814.9,696.6 C813.4,699.5 812.0,701.4 812.7,701.0 C813.4,700.6 816.7,695.9 819.3,694.4 C821.9,692.9 825.2,691.5 828.2,692.2 C831.2,692.9 834.4,695.1 837.0,698.8 C839.6,702.5 842.9,708.0 843.6,714.3 C844.3,720.5 842.5,730.4 841.4,736.3 C840.3,742.2 835.5,746.2 837.0,749.5 C838.5,752.8 845.8,753.1 850.2,756.1 C854.6,759.1 857.5,761.0 863.4,767.2 C869.3,773.4 880.4,786.3 885.5,793.2 C890.6,800.1 892.1,803.6 894.3,808.7 C896.5,813.9 896.5,819.3 898.7,824.1 C900.9,828.9 903.8,832.5 907.5,837.3 C911.2,842.1 916.7,848.3 920.7,852.7 C924.7,857.1 929.1,860.0 931.7,863.7 C934.3,867.4 935.7,870.4 936.1,874.8 C936.5,879.2 935.0,885.4 933.9,890.2 C932.8,895.0 930.2,898.3 929.5,903.4 C928.8,908.5 929.1,915.9 929.5,921.0 C929.9,926.1 930.6,930.6 931.7,934.3 C932.8,938.0 936.1,939.4 936.1,943.1 C936.1,946.8 932.8,951.9 931.7,956.3 C930.6,960.7 929.9,965.1 929.5,969.5 C929.1,973.9 930.0,979.7 929.5,982.8 C929.0,985.9 928.3,985.4 926.2,988.3 C924.1,991.2 919.9,996.3 916.7,1000.3 C913.5,1004.3 911.1,1008.8 907.1,1012.2 C903.1,1015.6 897.6,1019.0 892.8,1020.6 C888.0,1022.2 883.3,1022.4 878.5,1021.8 C873.7,1021.2 868.6,1019.0 864.2,1017.0 C859.8,1015.0 854.6,1012.6 852.2,1009.8 C849.8,1007.0 851.8,1002.7 849.8,1000.3 C847.8,997.9 844.7,996.7 840.3,995.5 C835.9,994.3 828.8,993.9 823.6,993.1 C818.4,992.3 813.2,991.9 809.2,990.7 C805.2,989.5 800.5,987.6 799.7,986.0 C798.9,984.4 800.9,983.2 804.5,981.2 C808.1,979.2 816.0,977.2 821.2,974.0 C826.4,970.8 831.9,965.7 835.5,962.1 C839.1,958.5 839.5,955.7 842.7,952.5 C845.9,949.3 850.2,946.2 854.6,943.0 C859.0,939.8 866.0,934.9 868.9,933.4 C871.8,931.9 871.2,935.5 872.2,934.3 C873.2,933.0 875.2,928.2 874.9,925.9 C874.6,923.5 872.4,919.9 870.5,920.2 C868.6,920.5 866.4,926.1 863.4,927.7 C860.4,929.3 856.1,931.0 852.4,929.9 C848.7,928.8 844.7,924.7 841.4,921.0 C838.1,917.3 835.5,912.6 832.6,907.8 C829.7,903.0 825.9,897.9 823.7,892.4 C821.5,886.9 820.8,880.3 819.3,874.8 C817.8,869.3 816.4,864.4 814.9,859.3 C813.4,854.1 813.1,849.4 810.5,843.9 C807.9,838.4 802.8,830.0 799.5,826.3 C796.2,822.6 792.2,827.4 790.7,821.9 C789.2,816.4 791.6,800.2 790.7,793.2 C789.8,786.2 787.4,786.9 785.2,780.0 C783.0,773.1 779.9,759.0 777.5,751.7 C775.1,744.4 774.2,740.0 770.9,736.3 C767.6,732.6 762.8,731.2 757.6,729.7 C752.5,728.2 742.5,727.9 740.0,727.5 C737.5,727.1 745.0,727.0 742.9,727.3 C740.8,727.6 731.5,728.4 727.5,729.5 C723.5,730.6 721.6,734.3 718.7,733.9 C715.8,733.5 713.4,729.1 709.9,727.3 C706.4,725.5 699.6,726.2 697.7,722.9 C695.9,719.6 699.7,710.8 698.8,707.5 C697.9,704.2 694.8,703.5 692.2,703.1 C689.6,702.7 686.3,706.8 683.4,705.3 C680.5,703.8 677.9,697.4 674.6,694.3 C671.3,691.2 668.0,687.0 663.6,686.6 C659.2,686.2 653.4,690.5 648.2,692.1 C643.1,693.8 637.5,695.8 632.7,696.5 C627.9,697.2 622.8,698.0 619.5,696.5 C616.2,695.0 616.6,688.8 612.9,687.7 C609.2,686.6 601.2,690.3 597.5,689.9 C593.8,689.5 592.8,688.8 590.9,685.5 C589.0,682.2 587.9,674.8 586.4,670.0 C584.9,665.2 584.2,660.8 582.0,656.8 C579.8,652.8 577.4,648.3 573.2,645.8 C569.1,643.3 561.3,643.5 557.1,641.6 C552.9,639.7 550.8,637.3 548.0,634.3 C545.2,631.2 543.1,627.0 540.6,623.3 C538.1,619.6 535.8,615.3 533.3,612.2 C530.8,609.1 528.7,607.6 525.9,604.9 C523.1,602.1 518.8,598.8 516.7,595.7 C514.6,592.6 513.9,590.5 513.1,586.5 C512.3,582.5 512.1,576.7 512.1,571.8 C512.1,566.9 513.6,561.1 513.1,557.1 C512.6,553.1 511.5,550.5 509.4,548.0 C507.2,545.5 501.7,545.2 500.2,542.4 C498.7,539.6 500.5,535.1 500.2,531.4 C499.9,527.7 499.9,522.8 498.4,520.4 C496.9,518.0 493.4,517.9 491.0,516.7 C488.6,515.5 485.5,515.2 483.7,513.1 C481.9,511.0 482.2,507.3 480.0,503.9 C477.8,500.4 474.3,495.0 470.5,492.4 C466.7,489.8 461.3,489.1 457.3,488.0 C453.3,486.9 449.2,487.6 446.3,485.8 C443.4,484.0 443.0,478.6 439.7,477.0 C436.4,475.4 430.8,475.5 426.4,475.9 C422.0,476.3 417.6,478.3 413.2,479.2 C408.8,480.1 404.4,481.7 400.0,481.4 C395.6,481.1 391.0,477.6 387.0,477.3 C383.0,477.0 380.0,478.4 376.0,479.5 C372.0,480.6 366.9,482.0 362.8,483.9 C358.8,485.8 355.0,489.5 351.7,490.6 C348.4,491.7 345.5,489.9 342.9,490.6 C340.3,491.3 338.9,493.2 336.3,495.0 C333.7,496.8 330.4,499.0 327.5,501.6 C324.6,504.2 322.4,510.4 318.7,510.4 C315.0,510.4 309.9,504.5 305.5,501.6 C301.1,498.7 296.6,496.1 292.2,492.8 C287.8,489.5 283.8,484.6 279.0,481.7 C274.2,478.8 268.0,477.1 263.6,475.1 C259.2,473.1 255.9,471.1 252.6,469.6 C249.3,468.1 247.0,466.9 243.7,466.3 C240.4,465.8 236.4,467.4 232.7,466.3 C229.0,465.2 226.5,461.0 221.7,459.7 C216.9,458.4 209.6,458.6 204.1,458.6 C198.6,458.6 192.8,460.4 188.7,459.7 C184.6,459.0 182.8,454.8 179.8,454.2 C176.9,453.6 174.3,455.8 171.0,456.4 C167.7,456.9 162.7,457.4 160.0,457.5 C157.3,457.6 154.0,458.9 154.6,457.0 C155.2,455.1 160.5,450.0 163.4,446.0 C166.3,442.0 168.9,435.8 172.2,432.8 C175.5,429.9 179.6,430.5 183.3,428.3 C187.0,426.1 193.0,420.5 194.3,419.5 C195.6,418.5 190.0,423.2 190.9,422.2 C191.8,421.2 196.8,417.1 199.7,413.4 C202.6,409.7 206.5,404.2 208.5,400.2 C210.5,396.2 211.4,393.6 211.8,389.2 C212.2,384.8 211.4,377.0 210.7,373.7 C210.0,370.4 208.5,368.6 207.4,369.3 C206.3,370.1 205.4,375.6 204.1,378.2 C202.8,380.8 201.9,383.0 199.7,384.8 C197.5,386.6 193.1,390.3 190.9,389.2 C188.7,388.1 187.9,381.5 186.4,378.2 C184.9,374.9 184.6,370.4 182.0,369.3 C179.4,368.2 173.9,373.0 171.0,371.5 C168.1,370.0 165.1,364.5 164.4,360.5 C163.7,356.5 167.3,350.6 166.6,347.3 C165.9,344.0 161.4,341.7 160.0,340.7 C158.6,339.7 158.0,342.0 157.9,341.2 C157.8,340.4 158.5,338.4 159.2,335.7 C159.9,332.9 161.1,328.1 162.0,324.7 C162.9,321.2 164.7,317.2 164.7,315.0 C164.7,312.8 163.6,311.8 162.0,311.6 C160.4,311.4 157.6,312.7 155.1,313.7 C152.6,314.7 148.6,316.0 146.8,317.8 C145.0,319.6 145.2,323.1 144.1,324.7 C142.9,326.3 142.0,327.9 139.9,327.4 C137.8,326.9 134.4,323.7 131.7,321.9 C128.9,320.1 125.9,318.2 123.4,316.4 C120.9,314.6 118.6,313.2 116.5,310.9 C114.4,308.6 112.4,305.8 111.0,302.6 C109.6,299.4 108.8,293.9 108.3,291.6 C107.8,289.3 108.3,289.3 108.3,288.9" stroke-width="4.8"/>
</g>
<path d="M881.0,626.1 C882.1,622.4 884.0,618.8 885.5,615.1 C887.0,611.4 888.4,605.2 889.9,604.1 C891.4,603.0 893.9,605.6 894.3,608.5 C894.7,611.4 893.6,617.7 892.1,621.7 C890.6,625.7 887.7,630.1 885.5,632.7 C883.3,635.3 879.5,638.2 878.8,637.1Z" fill="#111"/>
<polygon points="73.5,249 92.5,262 84.5,265 79,271.5" fill="#111"/>
<!--/MAP-->

<!--LABELS-->
<g font-family="Liberation Sans" font-weight="bold" fill="#111">
<text x="206" y="318" font-size="12" font-family="Liberation Serif">50′</text>
<text x="447" y="452.5" font-size="17">40′</text>
<text x="715.5" y="685.5" font-size="17">30′</text>
<text x="839" y="810.8" font-size="17">20′</text>
<text x="891" y="881.5" font-size="17">10′</text>
</g>
<!--/LABELS-->

<!--COUNTY-->
<polygon points="152.0,1217.5 141.8,1252.8 141.2,1317.5 168.2,1336.6 228.4,1301.3 262.2,1310.1 270.5,1296.3 279.3,1302.8 279.3,1311.6 314.5,1321.0 320.4,1307.2 315.1,1308.6 282.8,1299.8 282.8,1292.5 271.1,1288.1 268.1,1302.8 229.9,1291.0 168.2,1324.8 146.2,1311.6 144.7,1264.6 147.6,1241.1" fill="#111" stroke="#111" stroke-width="2" stroke-linejoin="round"/>
<polygon points="152.0,1217.5 159.4,1204.3 172.6,1197.0 190.2,1203.4 193.2,1199.9 202.0,1199.9 203.5,1177.9 227.0,1185.2 265.2,1186.7 268.1,1192.6 285.7,1195.5 290.2,1207.3 300.4,1207.3 306.3,1204.3 306.3,1195.5 318.1,1191.1 332.8,1186.7 341.6,1191.1 343.0,1194.0 341.6,1214.6 337.2,1238.1 332.8,1264.6 325.4,1288.1 315.1,1308.6 282.8,1299.8 282.8,1292.5 271.1,1288.1 268.1,1302.8 229.9,1291.0 168.2,1324.8 146.2,1311.6 144.7,1264.6 147.6,1241.1" fill="#fff" stroke="#111" stroke-width="3.2" stroke-linejoin="round"/>
<g fill="none" stroke="#111" stroke-width="2.6" stroke-linejoin="round">
<polyline points="144.7,1267.5 159.4,1261.6 174.1,1252.8 188.8,1246.9 209.3,1244.0"/>
<polyline points="193.2,1199.9 212.3,1207.3 247.5,1211.7 250.5,1217.5"/>
<polyline points="212.3,1207.3 213.7,1232.2 209.3,1244.0 224.0,1258.7 235.8,1261.6 250.5,1263.1 253.4,1238.1 256.4,1217.5"/>
<polyline points="247.5,1211.7 268.1,1207.3 290.2,1207.3"/>
<polyline points="250.5,1217.5 268.1,1217.5 300.4,1208.7"/>
<polyline points="300.4,1208.7 297.5,1232.2 294.6,1252.8 293.1,1276.3 282.8,1292.5"/>
<polyline points="253.4,1255.7 294.6,1249.9 335.7,1242.5"/>
<polyline points="235.8,1264.6 224.0,1285.1"/>
</g>
<circle cx="321.0" cy="1204.9" r="1.3" fill="#111"/>
<path d="M356,1113 C395,1118 428,1140 428,1170 C427,1195 405,1208 378,1206 L384,1224 L327,1204 L371,1162 L374,1182 C395,1180 407,1168 404,1152 C400,1135 385,1122 356,1113Z" fill="#111"/>
<!--/COUNTY-->

<!--LOGO-->
<defs>
<path id="lgTop" d="M914.8,26.8 A56.5,56.5 0 0 1 1014.6,26.8"/>
<path id="lgBot" d="M907.2,25.2 A64,64 0 1 0 1022.2,25.2"/>
</defs>
<circle cx="964.7" cy="53.3" r="66.3" fill="#fff" stroke="#111" stroke-width="1.6"/>
<circle cx="964.7" cy="53.3" r="52" fill="#111"/>
<g font-family="Liberation Sans" font-weight="bold" fill="#111">
<text font-size="12.5" letter-spacing="0.6" stroke="#111" stroke-width="0.5"><textPath href="#lgTop" startOffset="50%" text-anchor="middle">NEW YORK STATE</textPath></text>
<text font-size="11.5" letter-spacing="0.2" stroke="#111" stroke-width="0.5"><textPath href="#lgBot" startOffset="50%" text-anchor="middle">FISH, WILDLIFE &amp; MARINE RESOURCES</textPath></text>
</g>
<g fill="none" stroke="#fff" stroke-width="1.5">
<path d="M913.5,45.5 Q931,39 948,40 Q960,42 972.6,52.3"/>
<path d="M972.6,52.3 Q990,44 1015,40.5"/>
<path d="M913.5,68.2 L1015.5,68.2"/>
</g>
<g fill="#fff">
<path d="M934.1,26.9 L937.5,19.3 L945.1,17.9 L953.4,20.7 L957.5,24.1 L958.9,22 L956.1,16.5 L958.9,15.2 L961.6,18.6 L964.4,15.8 L967.1,17.9 L964.4,22 L961.6,27.5 L957.5,31.7 L954.7,34.4 L954,44.1 L954.7,52.3 L952.7,52.3 L950.6,37.2 L947.9,35.8 L947.2,49.6 L945.1,49.6 L943.7,35.8 L941,34.4 L939.6,45.5 L937.5,45.5 L937.5,33.1 L934.1,30.3Z"/>
<path d="M932.7,82.6 Q940,80 952,81.3 Q960,82.5 963,84 L971.3,81.3 L974,82.6 L969.9,88.2 L972.6,95 L967.1,92.3 Q960,94.5 949.2,96.4 Q940,95 934.1,89.5Z"/>
<path d="M979.5,88.5 A9,9 0 0 1 997.5,88.5 L991.5,92.5 L985.5,92.5Z"/>
</g>
<path d="M928.6,55.1 Q945,60 956,58.5 Q965,55 974,48 Q982,38 989,25 Q993,30 996,36 Q998,44 994,51 Q985,58 975,62 Q965,66 952,64.5 Q938,62 928.6,55.1Z" fill="#111" stroke="#fff" stroke-width="0.9"/>
<path d="M955,58 Q961,55 967,57 L966,62 Q960,63 955,60Z" fill="#fff"/>
<path d="M970,62 L982,60 L984,70 L972,71Z" fill="#fff" opacity="0.85"/>
<!--/LOGO-->

<!--SF-->
<defs>
<path id="sfTop" d="M45.6,1360.4 A24.5,24.5 0 0 1 93.6,1360.4"/>
<path id="sfL" d="M38.9,1369.8 A31,31 0 0 0 64.2,1396.0"/>
<path id="sfR" d="M75.0,1396.0 A31,31 0 0 0 100.3,1369.8"/>
</defs>
<g font-family="Liberation Serif" font-weight="bold" fill="#111">
<text font-size="12.5" letter-spacing="-0.9" stroke="#111" stroke-width="0.35"><textPath href="#sfTop" startOffset="50%" text-anchor="middle">SPORT FISH</textPath></text>
<text font-size="12.5" letter-spacing="-0.6" stroke="#111" stroke-width="0.35"><textPath href="#sfL" startOffset="0%">RESTO</textPath></text>
<text font-size="12.5" letter-spacing="-0.6" stroke="#111" stroke-width="0.35"><textPath href="#sfR" startOffset="100%" text-anchor="end">ATION</textPath></text>
</g>
<path d="M79,1345 Q70,1346 64,1352 Q58,1358 57,1366 Q57,1374 61,1380 L66,1382 Q63,1374 64,1366 Q66,1356 74,1351 Q80,1348 84,1349 Q82,1346 79,1345Z" fill="#111"/>
<path d="M66,1352 Q72,1347 80,1347 L83,1352 Q74,1352 69,1358Z" fill="#111"/>
<path d="M68,1372 L76,1373 L79,1381 L65,1382Z" fill="#111"/>
<ellipse cx="80" cy="1366" rx="2.8" ry="8" fill="none" stroke="#666" stroke-width="0.8" transform="rotate(20 80 1366)"/>
<!--/SF-->
<!-- north arrow -->
<polygon points="221.7,617.6 236.8,668.4 221.7,661.8 206.2,668.4" fill="#111"/>
<rect x="217.2" y="655" width="8.5" height="76.5" fill="#111"/>
<!-- scale bar -->
<rect x="716.5" y="1350.5" width="145" height="9.4" fill="#fff" stroke="#111" stroke-width="1.2"/>
<rect x="716.5" y="1350.5" width="73" height="4.7" fill="#111"/>
<rect x="789.5" y="1354" width="72" height="5.9" fill="#111"/>
</svg>
<div class="t" id="nn" style="left:210.0px;top:731.56px;font-size:32.3px;transform:scaleX(1.03);">N</div>
</body></html>
